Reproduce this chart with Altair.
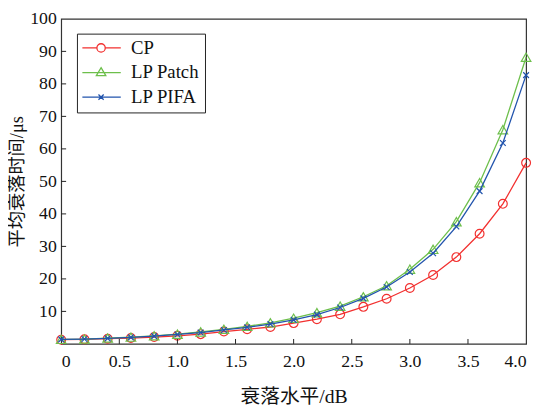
import altair as alt
import pandas as pd

# ---- data ----
fade_level = [0.0, 0.2, 0.4, 0.6, 0.8, 1.0, 1.2, 1.4, 1.6, 1.8, 2.0,
              2.2, 2.4, 2.6, 2.8, 3.0, 3.2, 3.4, 3.6, 3.8, 4.0]
cp = [1.3, 1.4, 1.6, 1.8, 2.1, 2.5, 3.0, 3.8, 4.5, 5.2, 6.4,
      7.6, 9.1, 11.4, 13.9, 17.2, 21.2, 26.7, 33.9, 43.1, 55.7]
lp_patch = [1.4, 1.5, 1.8, 2.1, 2.5, 3.0, 3.7, 4.5, 5.4, 6.5, 7.9,
            9.6, 11.6, 14.5, 17.9, 23.0, 29.1, 37.6, 49.6, 65.9, 88.2]
lp_pifa = [1.4, 1.5, 1.7, 2.0, 2.4, 2.9, 3.5, 4.3, 5.1, 6.1, 7.4,
           9.0, 11.2, 14.0, 17.5, 22.1, 27.9, 36.1, 47.0, 61.8, 82.7]

series_names = ["CP", "LP Patch", "LP PIFA"]
series_values = [cp, lp_patch, lp_pifa]
series_colors = ["#f2302f", "#6dbf4b", "#2254ad"]

x_ticks = [0, 0.5, 1.0, 1.5, 2.0, 2.5, 3.0, 3.5, 4.0]
y_ticks = [10, 20, 30, 40, 50, 60, 70, 80, 90, 100]
x_inner_ticks = [0.5, 1.0, 1.5, 2.0, 2.5, 3.0, 3.5]
y_inner_ticks = [10, 20, 30, 40, 50, 60, 70, 80, 90]

x_title = "衰落水平/dB"
y_title = "平均衰落时间/μs"

# ---- tables ----
rows = []
for name, vals in zip(series_names, series_values):
    for x, v in zip(fade_level, vals):
        rows.append({"level": x, "time": v, "series": name})
df = pd.DataFrame(rows)

W, H = 472, 330
FONT = "Liberation Serif, Times New Roman, serif"
TFONT = "Liberation Serif, Noto Sans CJK SC, serif"

xs = alt.Scale(domain=[0, 4.0], nice=False, zero=False)
ys = alt.Scale(domain=[0, 100], nice=False)

x_axis = alt.Axis(values=x_ticks, title=x_title, grid=False, domain=False,
                  ticks=False, labelPadding=9, labelOverlap=False,
                  labelExpr="datum.value == 0 ? '0' : format(datum.value, '.1f')",
                  labelFont=FONT, labelFontSize=18, labelColor="#111",
                  titleFont=TFONT, titleFontSize=20, titleFontWeight="normal",
                  titleColor="#111", titlePadding=16)
y_axis = alt.Axis(values=y_ticks, title=y_title, grid=False, domain=False,
                  ticks=False, labelPadding=5, labelOverlap=False,
                  labelFont=FONT, labelFontSize=18, labelColor="#111",
                  titleFont=TFONT, titleFontSize=18.5, titleFontWeight="normal",
                  titleColor="#111", titlePadding=3)

base = alt.Chart(df)

marker_shapes = {
    "CP": "circle",
    "LP Patch": "triangle-up",
    "LP PIFA": "M-1,-1L1,1M-1,1L1,-1",
}
marker_sizes = {"CP": 80, "LP Patch": 95, "LP PIFA": 34}

layers = []
for name, col in zip(series_names, series_colors):
    ln = base.transform_filter(alt.datum.series == name).mark_line(
        color=col, strokeWidth=1.3,
        point=alt.OverlayMarkDef(shape=marker_shapes[name], filled=False,
                                 color=col, size=marker_sizes[name],
                                 strokeWidth=1.2)
    ).encode(
        x=alt.X("level:Q", scale=xs, axis=x_axis),
        y=alt.Y("time:Q", scale=ys, axis=y_axis),
    )
    layers.append(ln)

# legend-only layer (invisible marks, visible legend symbols)
legend_paths = [
    "M-1.125,0H0.72M1.78,0H3.75M1.78,0A0.53,0.53 0 1,1 0.72,0A0.53,0.53 0 1,1 1.78,0",
    "M-1.125,0H3.75M1.25,-0.62L1.85,0.4L0.65,0.4Z",
    "M-1.125,0H3.75M0.92,-0.33L1.58,0.33M0.92,0.33L1.58,-0.33",
]
leg = base.mark_point(opacity=0, filled=False).encode(
    x=alt.X("level:Q", scale=xs, axis=x_axis),
    y=alt.Y("time:Q", scale=ys, axis=y_axis),
    color=alt.Color("series:N",
                    scale=alt.Scale(domain=series_names, range=series_colors),
                    legend=alt.Legend(title=None, orient="none", legendX=16,
                                      legendY=15, padding=5,
                                      strokeColor="#222", fillColor="white",
                                      symbolSize=256, symbolStrokeWidth=1.3,
                                      symbolOpacity=1,
                                      symbolFillColor="transparent",
                                      labelFont=FONT, labelFontSize=19,
                                      labelColor="#111", labelOffset=31,
                                      rowPadding=5)),
    shape=alt.Shape("series:N",
                    scale=alt.Scale(domain=series_names, range=legend_paths)),
)

# inward tick marks
xt = alt.Chart(pd.DataFrame({"level": x_inner_ticks})).mark_rule(
    color="#222", strokeWidth=1).encode(
    x=alt.X("level:Q", scale=xs, axis=x_axis),
    y=alt.value(H), y2=alt.value(H - 5))
yt = alt.Chart(pd.DataFrame({"time": y_inner_ticks})).mark_rule(
    color="#222", strokeWidth=1).encode(
    y=alt.Y("time:Q", scale=ys, axis=y_axis),
    x=alt.value(0), x2=alt.value(5))

chart = alt.layer(*layers, xt, yt, leg).properties(
    width=W, height=H,
    background="white",
    autosize=alt.AutoSizeParams(type="none"),
    padding={"left": 54, "top": 8, "right": 6, "bottom": 60},
).configure_view(
    stroke="#333", strokeWidth=1.2
)

chart.save("out.html", embed_options={"renderer": "svg", "actions": False})
